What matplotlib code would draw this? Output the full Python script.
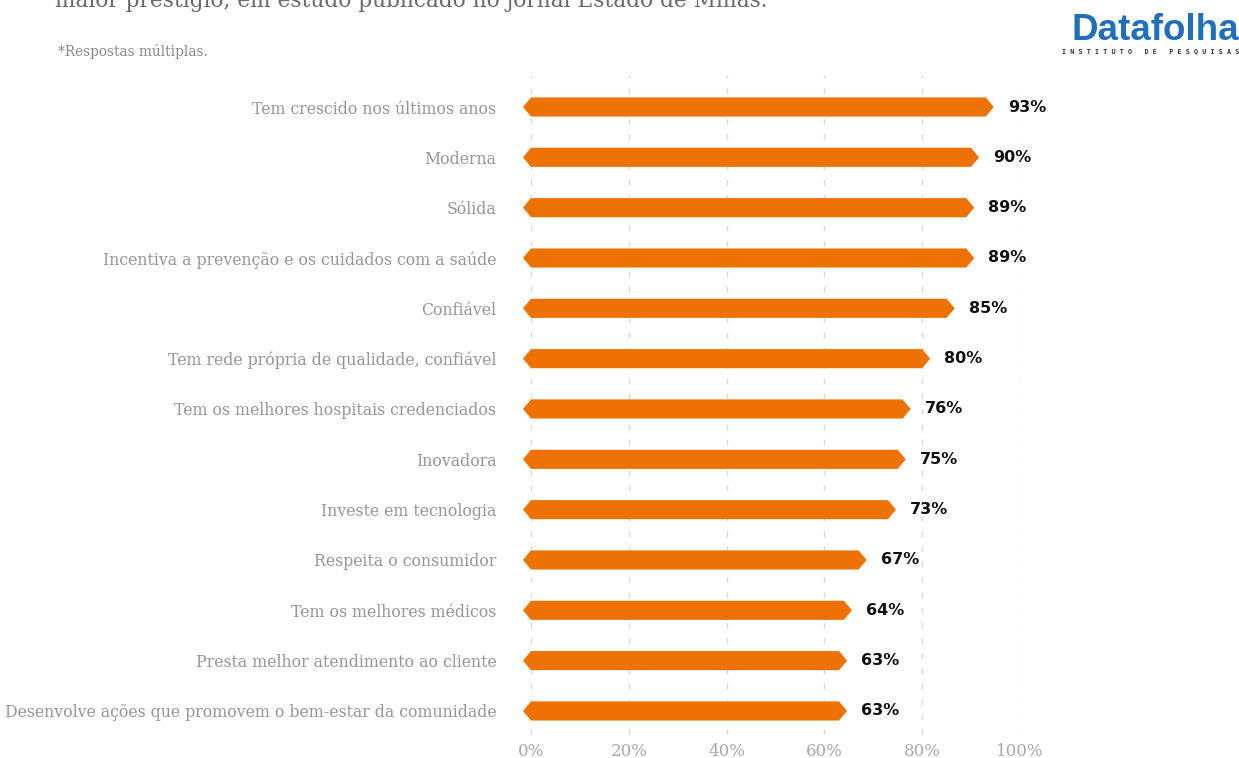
import matplotlib
matplotlib.use("Agg")
import matplotlib.pyplot as plt
from matplotlib.patches import Polygon

categories = [
    "Tem crescido nos últimos anos",
    "Moderna",
    "Sólida",
    "Incentiva a prevenção e os cuidados com a saúde",
    "Confiável",
    "Tem rede própria de qualidade, confiável",
    "Tem os melhores hospitais credenciados",
    "Inovadora",
    "Investe em tecnologia",
    "Respeita o consumidor",
    "Tem os melhores médicos",
    "Presta melhor atendimento ao cliente",
    "Desenvolve ações que promovem o bem-estar da comunidade",
]
values = [93, 90, 89, 89, 85, 80, 76, 75, 73, 67, 64, 63, 63]
xticks = [0, 20, 40, 60, 80, 100]
xtick_labels = ["0%", "20%", "40%", "60%", "80%", "100%"]

W, H = 1239, 758
fig = plt.figure(figsize=(W / 100, H / 100), dpi=100)

ax_left, ax_right = 531, 1020
ax_top, ax_bot = 75, 735
ax = fig.add_axes([ax_left / W, 1 - ax_bot / H, (ax_right - ax_left) / W, (ax_bot - ax_top) / H])

row0, step = 107, 50.33
ax.set_xlim(0, 100)
ax.set_ylim((ax_bot - row0) / step, (ax_top - row0) / step)

orange = "#EE7203"
px_per_unit = (ax_right - ax_left) / 100
tip = 8 / px_per_unit
half = 0.19

for i, v in enumerate(values):
    pts = [(0, i - half), (v, i - half), (v + tip, i), (v, i + half),
           (0, i + half), (-tip, i)]
    ax.add_patch(Polygon(pts, closed=True, facecolor=orange, edgecolor="none",
                         clip_on=False, zorder=3))
    ax.text(v + tip + 14 / px_per_unit, i, f"{v}%", ha="left", va="center",
            fontsize=11.5, fontweight="bold", color="#111111",
            family="DejaVu Sans", zorder=4)

for x in xticks:
    ax.axvline(x, color="#d9d9d9", linewidth=1, linestyle=(0, (4, 7)), zorder=1)

for s in ax.spines.values():
    s.set_visible(False)

ax.set_xticks(xticks)
ax.set_xticklabels(xtick_labels, fontsize=12, color="#a8a8a8", family="DejaVu Serif")
ax.tick_params(axis="x", length=0, pad=6)
ax.set_yticks(range(len(categories)))
ax.set_yticklabels(categories, fontsize=11.3, color="#959595", family="DejaVu Serif")
ax.tick_params(axis="y", length=0, pad=25)

# header texts
fig.text(55 / W, 1 - 7 / H, "maior prestígio, em estudo publicado no jornal Estado de Minas.",
         fontsize=15.6, color="#6a6a6a", family="DejaVu Serif", va="baseline", ha="left")
fig.text(58 / W, 1 - 56 / H, "*Respostas múltiplas.", fontsize=9.8, color="#8a8a8a",
         family="DejaVu Serif", va="baseline", ha="left")

# logo
fig.text(1239 / W, 1 - 40 / H, "Datafolha", fontsize=26.5, fontweight="bold",
         color="#1f6fbd", family=["Liberation Sans", "DejaVu Sans"],
         va="baseline", ha="right")
fig.text(1239 / W, 1 - 53 / H, "I N S T I T U T O   D E   P E S Q U I S A S", fontsize=4.9,
         fontweight="bold", color="#333333", family="DejaVu Sans Mono",
         va="baseline", ha="right")

fig.savefig("out.png", dpi=100)
